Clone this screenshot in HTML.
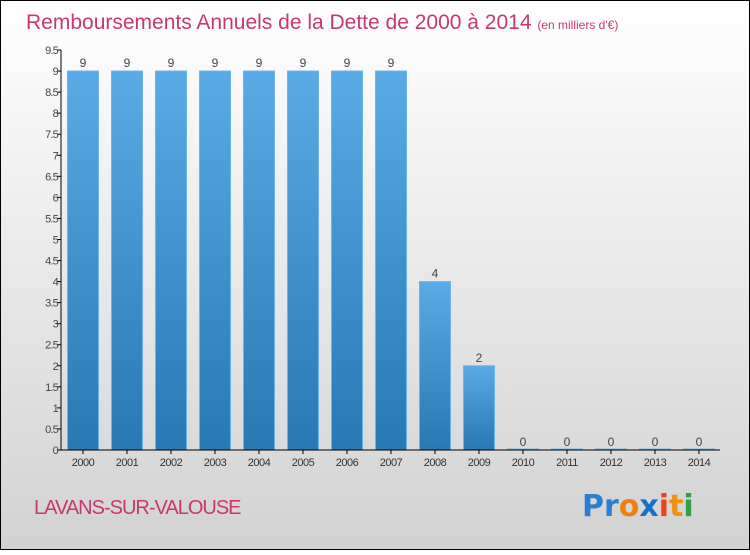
<!DOCTYPE html>
<html><head><meta charset="utf-8"><style>
html,body{margin:0;padding:0}
body{width:750px;height:550px;overflow:hidden;font-family:"Liberation Sans","DejaVu Sans",sans-serif}
</style></head><body>
<svg id="chart" width="750" height="550" xmlns="http://www.w3.org/2000/svg">
<defs>
<linearGradient id="bg" x1="0" y1="0" x2="0" y2="1"><stop offset="0" stop-color="#ffffff"/><stop offset="1" stop-color="#d2d2d2"/></linearGradient>
<linearGradient id="bar" x1="0" y1="0" x2="0" y2="1"><stop offset="0" stop-color="#5aaae6"/><stop offset="1" stop-color="#2878b4"/></linearGradient>
</defs>
<rect x="0.5" y="0.5" width="749" height="549" fill="url(#bg)" stroke="#000"/>
<text x="26" y="29" font-size="21" fill="#c8386e">Remboursements Annuels de la Dette de 2000 à 2014 <tspan font-size="12">  (en milliers d'€)</tspan></text>
<text x="34" y="514" font-size="20" fill="#c8386e" letter-spacing="-1">LAVANS-SUR-VALOUSE</text>
<g font-size="30" font-weight="bold" font-family="'DejaVu Sans',sans-serif">
<text x="582" y="516"><tspan fill="#2a7fd0">Pr</tspan><tspan fill="#f08010">o</tspan><tspan fill="#1a6fc8">x</tspan><tspan fill="#f04020">i</tspan><tspan fill="#f09010">t</tspan><tspan fill="#30a040">i</tspan></text>
</g>
<g id="plot"></g>
</svg>
<script>
const years=["2000","2001","2002","2003","2004","2005","2006","2007","2008","2009","2010","2011","2012","2013","2014"];
const values=[9,9,9,9,9,9,9,9,4,2,0,0,0,0,0];
const valueLabels=["9","9","9","9","9","9","9","9","4","2","0","0","0","0","0"];
const yTicks=[0,0.5,1,1.5,2,2.5,3,3.5,4,4.5,5,5.5,6,6.5,7,7.5,8,8.5,9,9.5];
const NS="http://www.w3.org/2000/svg";
const g=document.getElementById('plot');
const y0=450,yTop=50,yMax=9.5,x0=61,xEnd=720,step=44,firstC=83,bw=31;
const yS=v=>y0-(v/yMax)*(y0-yTop);
const xS=i=>firstC+i*step;
function mk(t,a){const e=document.createElementNS(NS,t);for(const k in a)e.setAttribute(k,a[k]);g.appendChild(e);return e;}
values.forEach((v,i)=>{
 const h=y0-yS(v);
 const r=mk('rect',{x:xS(i)-bw/2,y:yS(v)-(v===0?1:0),width:bw,height:Math.max(h,1),fill:'url(#bar)',stroke:'#6ab4ec','stroke-width':1});
 
 
 const t=mk('text',{x:xS(i),y:yS(v)-4,'text-anchor':'middle','font-size':12,fill:'#444'});
 t.textContent=valueLabels[i];
 
 
 const tk=mk('line',{x1:xS(i),x2:xS(i),y1:y0,y2:y0+4,stroke:'#000'});
 
 
 const xl=mk('text',{x:xS(i),y:y0+16,'text-anchor':'middle','font-size':11,fill:'#333','letter-spacing':'-0.5'});
 xl.textContent=years[i];
 
 
});
yTicks.forEach(v=>{
 const l=mk('line',{x1:x0-4,x2:x0,y1:yS(v),y2:yS(v),stroke:'#000'});
 
 
 const t=mk('text',{x:x0-3,y:yS(v)+4,'text-anchor':'end','font-size':11,fill:'#444','letter-spacing':'-0.8'});
 t.textContent=String(v);
 
 
});
const ya=mk('line',{x1:x0,x2:x0,y1:yTop,y2:y0,stroke:'#000'});


const xa=mk('line',{x1:x0,x2:xEnd,y1:y0,y2:y0,stroke:'#000'});


</script>
</body></html>
